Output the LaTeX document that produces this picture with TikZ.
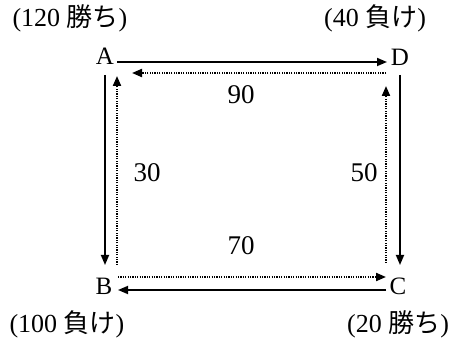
\documentclass[tikz,border=0pt]{standalone}
\usepackage{fontspec}
\setmainfont{Liberation Serif}
\newfontfamily\jp{Noto Sans CJK JP}
\usetikzlibrary{arrows.meta}
\tikzset{
  vtx/.style={inner sep=1pt, font=\fontsize{25}{27}\selectfont},
  lbl/.style={inner sep=0pt, font=\fontsize{26}{28}\selectfont},
  num/.style={inner sep=0pt, font=\fontsize{27}{29}\selectfont},
  sol/.style={line width=1.7pt, -{Triangle[length=10pt,width=8pt]}},
  dot/.style={line width=2pt, dash pattern=on 1.2pt off 1.2pt, -{Triangle[length=10pt,width=8pt]}}
}
\begin{document}
\begin{tikzpicture}[x=1pt,y=-1pt]
\useasboundingbox (0,0) rectangle (456,339);
\node[vtx] (A) at (105,56) {A};
\node[vtx] (D) at (400,57) {D};
\node[vtx] (B) at (104,286) {B};
\node[vtx] (C) at (398,286) {C};
\node[lbl] (la) at (70,18) {(120 {\jp 勝ち})};
\node[lbl] (ld) at (375,18) {(40 {\jp 負け})};
\node[lbl] (lb) at (67,324) {(100 {\jp 負け})};
\node[lbl] (lc) at (398,324) {(20 {\jp 勝ち})};
\node[num] (n90) at (241,95) {90};
\node[num] (n30) at (147,173) {30};
\node[num] (n50) at (364,173) {50};
\node[num] (n70) at (241,246) {70};
% top
\coordinate (a1) at (117,62); \coordinate (d1) at (387,62);
\coordinate (d2) at (386,73); \coordinate (a2) at (132,73);
\draw[sol] (a1) -- (d1);
\draw[dot] (d2) -- (a2);
% left
\coordinate (a3) at (105,75); \coordinate (b3) at (105,265);
\coordinate (b4) at (117,265); \coordinate (a4) at (117,76);
\draw[sol] (a3) -- (b3);
\draw[dot] (b4) -- (a4);
% right
\coordinate (d5) at (400,75); \coordinate (c5) at (400,265);
\coordinate (c6) at (386,263); \coordinate (d6) at (386,86);
\draw[sol] (d5) -- (c5);
\draw[dot] (c6) -- (d6);
% bottom
\coordinate (b7) at (118,277); \coordinate (c7) at (386,277);
\coordinate (c8) at (386,290); \coordinate (b8) at (118,290);
\draw[dot] (b7) -- (c7);
\draw[sol] (c8) -- (b8);
\end{tikzpicture}
\end{document}
